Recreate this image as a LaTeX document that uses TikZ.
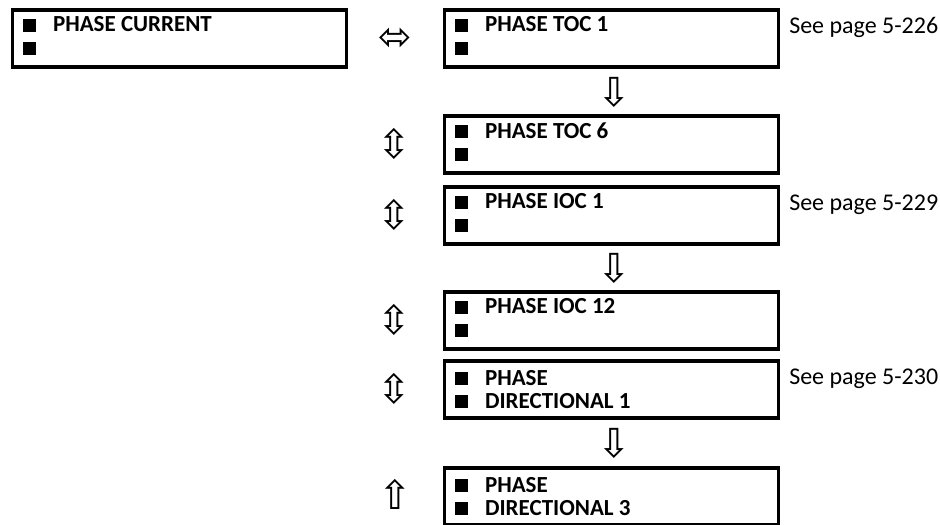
\documentclass[tikz,border=0pt]{standalone}
\usepackage{fontspec}
\setmainfont{Carlito}
\newfontfamily\arrowfont{DejaVu Sans}
\newcommand{\sq}{\rule{9.75pt}{9.75pt}\hspace{12.75pt}}
\newcommand{\sqe}{\rule{9.75pt}{9.75pt}\rule[-4pt]{0pt}{4pt}}

\begin{document}
\begin{tikzpicture}[
    x=0.75pt, y=-0.75pt,
    menu/.style={draw, line width=2.6pt, anchor=north west, outer sep=0pt,
      inner xsep=7.9pt, inner ysep=0pt, text width=234.75pt, minimum height=42.75pt,
      align=flush left, font=\fontsize{17.25pt}{17.25pt}\selectfont\bfseries},
    seepage/.style={anchor=base west, inner sep=0pt,
      font=\fontsize{18pt}{18pt}\selectfont},
    nav/.style={inner sep=0pt, font=\arrowfont\fontsize{30pt}{30pt}\selectfont},
  ]
  \useasboundingbox (0,0) rectangle (940,525);

  % ---- top level
  \node[menu] (phasecur) at (12.5,10) {\sq PHASE CURRENT\\\sqe};
  \node[nav] (lr) at (395,39) {⬄};

  % ---- time overcurrent
  \node[menu] (toc1) at (444.5,10) {\sq PHASE TOC 1\\\sqe};
  \node[seepage] (see226) at (789,33) {See page 5-226};
  \node[nav] (dn1) at (614,92) {⇩};
  \node[menu] (toc6) at (444.5,116) {\sq PHASE TOC 6\\\sqe};
  \node[nav] (ud1) at (394,144) {⇳};

  % ---- instantaneous overcurrent
  \node[menu] (ioc1) at (444.5,187) {\sq PHASE IOC 1\\\sqe};
  \node[nav] (ud2) at (394,215) {⇳};
  \node[seepage] (see229) at (789,210) {See page 5-229};
  \node[nav] (dn2) at (614,268) {⇩};
  \node[menu] (ioc12) at (444.5,292) {\sq PHASE IOC 12\\\sqe};
  \node[nav] (ud3) at (394,320) {⇳};

  % ---- directional
  \node[menu] (dir1) at (444.5,361) {\sq PHASE\\\sq DIRECTIONAL 1};
  \node[nav] (ud4) at (394,389) {⇳};
  \node[seepage] (see230) at (789,384) {See page 5-230};
  \node[nav] (dn3) at (614,443) {⇩};
  \node[menu] (dir3) at (444.5,468) {\sq PHASE\\\sq DIRECTIONAL 3};
  \node[nav] (up1) at (395,494) {⇧};
\end{tikzpicture}
\end{document}
